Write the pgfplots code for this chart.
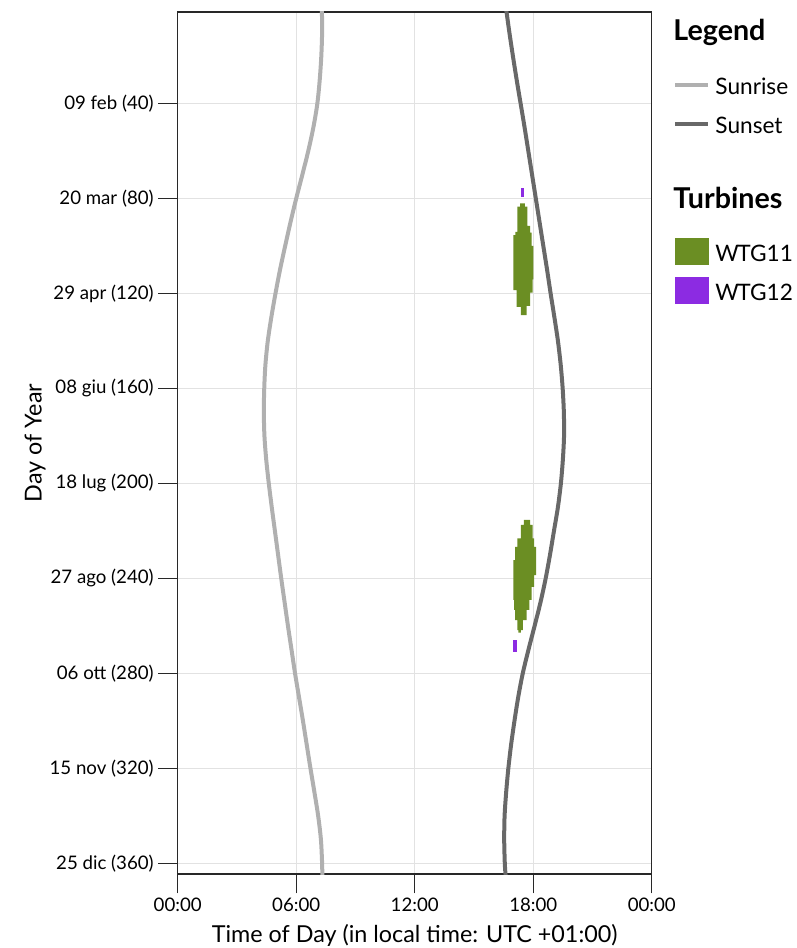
\documentclass[border=0pt]{standalone}
\usepackage{fontspec}
\setmainfont{Lato}
\usepackage{pgfplots}
\usepackage{pgfplotstable}
\pgfplotsset{compat=1.18}

\definecolor{gridgray}{RGB}{226,226,226}
\definecolor{risegray}{RGB}{176,176,176}
\definecolor{setgray}{RGB}{104,104,104}
\definecolor{wtggreen}{RGB}{107,142,35}
\definecolor{wtgpurple}{RGB}{140,43,226}
\definecolor{axisdark}{RGB}{40,40,40}

% Sunrise and sunset (decimal hours, local time UTC+01:00) by day of year
\pgfplotstableread{
day rise  set
1   7.30 16.64
10  7.31 16.79
20  7.27 16.97
30  7.19 17.16
40  7.07 17.36
50  6.87 17.56
60  6.61 17.75
70  6.31 17.94
80  6.00 18.13
90  5.71 18.32
100 5.44 18.51
110 5.18 18.70
120 4.95 18.88
130 4.74 19.07
140 4.56 19.25
150 4.44 19.39
160 4.38 19.49
170 4.36 19.55
180 4.39 19.56
190 4.48 19.50
200 4.61 19.40
210 4.76 19.25
220 4.92 19.05
230 5.08 18.85
240 5.24 18.63
250 5.41 18.37
260 5.58 18.07
270 5.76 17.76
280 5.94 17.47
290 6.14 17.24
300 6.34 17.05
310 6.53 16.88
320 6.72 16.74
330 6.92 16.63
340 7.11 16.55
350 7.25 16.53
360 7.31 16.56
365 7.32 16.60
}\suntable

\newcommand{\tickfont}{\fontsize{14}{16}\selectfont}
\newcommand{\labelfont}{\fontsize{17.5}{20}\selectfont}
% struts that fix the height of each legend row
\newcommand{\entrystrut}{\rule[-7.5pt]{0pt}{25pt}}
\newcommand{\headfont}{\fontsize{21.5}{24}\selectfont\bfseries}

\begin{document}
\begin{tikzpicture}
\path[use as bounding box] (-133.3pt,-55.5pt) rectangle (463.7pt,655.5pt);
\begin{axis}[
  scale only axis,
  width=355.5pt, height=646.5pt,
  xmin=0, xmax=24,
  ymin=1.5, ymax=364.5,
  y dir=reverse,
  xtick={0,6,12,18,24},
  xticklabels={00:00,06:00,12:00,18:00,00:00},
  ytick={40,80,...,360},
  yticklabels={09 feb (40),20 mar (80),29 apr (120),08 giu (160),18 lug (200),27 ago (240),06 ott (280),15 nov (320),25 dic (360)},
  tick pos=left,
  tick align=outside,
  major tick length=14.5pt,
  tick style={axisdark, line width=1.1pt},
  axis line style={axisdark, line width=1.1pt},
  grid=major,
  major grid style={gridgray, line width=1.1pt},
  ticklabel style={font=\tickfont},
  xlabel={Time of Day (in local time: UTC +01:00)},
  ylabel={Day of Year},
  label style={font=\labelfont},
  xlabel style={at={(axis description cs:0.5,-0.0708)}, anchor=center},
  ylabel style={at={(axis description cs:-0.301,0.5)}, anchor=center},
  legend cell align=left,
  legend style={
    at={(axis description cs:1.045,0.9914)}, anchor=north west,
    draw=none, fill=none, inner sep=0pt, outer sep=0pt,
    row sep=4.25pt, column sep=3.5pt,
    font=\fontsize{17}{20}\selectfont,
    nodes={inner sep=0pt, text depth=},
  },
]
% daylight limits
\addplot[forget plot, risegray, line width=3pt, smooth] table[x=rise, y=day] {\suntable};
\addplot[forget plot, setgray, line width=3pt, smooth] table[x=set, y=day] {\suntable};

% WTG11 shadow periods
\addplot[forget plot, fill=wtggreen, draw=none] coordinates {
  (17.33,82.1) (17.33,83.5) (17.20,83.5) (17.20,94.1) (17.10,94.1) (17.10,95.5)
  (16.99,95.5) (16.99,118.6) (17.16,118.6) (17.16,125.7) (17.37,125.7) (17.37,129.1)
  (17.67,129.1) (17.67,125.3) (17.84,125.3) (17.84,119.7) (17.97,119.7) (17.97,114.1)
  (18.01,114.1) (18.01,100.0) (17.92,100.0) (17.92,94.4) (17.84,94.4) (17.84,91.6)
  (17.70,91.6) (17.70,83.5) (17.58,83.5) (17.58,82.1)
} -- cycle;
\addplot[forget plot, fill=wtggreen, draw=none] coordinates {
  (17.53,215.4) (17.53,217.5) (17.37,217.5) (17.37,223.2) (17.20,223.2) (17.20,226.7)
  (17.08,226.7) (17.08,232.3) (16.99,232.3) (16.99,249.1) (17.03,249.1) (17.03,253.3)
  (17.08,253.3) (17.08,257.6) (17.20,257.6) (17.20,261.8) (17.25,261.8) (17.25,262.9)
  (17.37,262.9) (17.37,261.8) (17.47,261.8) (17.47,257.6) (17.67,257.6) (17.67,253.3)
  (17.80,253.3) (17.80,249.1) (17.92,249.1) (17.92,243.6) (18.04,243.6) (18.04,238.6)
  (18.14,238.6) (18.14,226.7) (18.04,226.7) (18.04,223.2) (17.97,223.2) (17.97,217.5)
  (17.84,217.5) (17.84,215.4)
} -- cycle;
% WTG12 shadow periods
\addplot[forget plot, fill=wtgpurple, draw=none] coordinates {
  (17.37,75.7) (17.53,75.7) (17.53,79.4) (17.37,79.4)
} -- cycle;
\addplot[forget plot, fill=wtgpurple, draw=none] coordinates {
  (16.99,266.0) (17.20,266.0) (17.20,271.0) (16.99,271.0)
} -- cycle;

% legend: two headed groups
\addlegendimage{empty legend}
\addlegendentry{\hspace*{-31.5pt}\headfont Legend\rule[-18.25pt]{0pt}{34.25pt}}
\addlegendimage{legend image code/.code={\draw[risegray, line width=3.5pt] (0pt,1.75pt) -- (24.75pt,1.75pt);}}
\addlegendentry{Sunrise\entrystrut}
\addlegendimage{legend image code/.code={\draw[setgray, line width=3.5pt] (0pt,1.75pt) -- (24.75pt,1.75pt);}}
\addlegendentry{Sunset\entrystrut}
\addlegendimage{empty legend}
\addlegendentry{\hspace*{-31.5pt}\headfont Turbines\rule[-18.25pt]{0pt}{62.75pt}}
\addlegendimage{legend image code/.code={\fill[wtggreen] (0pt,-7.25pt) rectangle (24.75pt,12.25pt);}}
\addlegendentry{W\kern-1.2pt T\kern-0.5pt G11\entrystrut}
\addlegendimage{legend image code/.code={\fill[wtgpurple] (0pt,-7.25pt) rectangle (24.75pt,12.25pt);}}
\addlegendentry{W\kern-1.2pt T\kern-0.5pt G12\entrystrut}
\end{axis}
\end{tikzpicture}
\end{document}
